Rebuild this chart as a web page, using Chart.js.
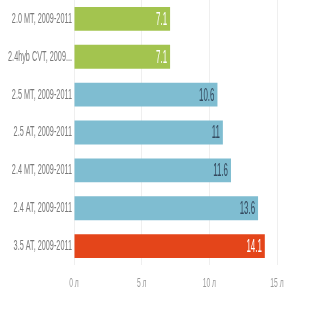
<!DOCTYPE html>
<html>
<head>
<meta charset="utf-8">
<script src="https://cdn.jsdelivr.net/npm/chart.js@4/dist/chart.umd.min.js"></script>
<style>
  html, body { margin: 0; padding: 0; background: #fff; }
  #wrap { width: 335px; height: 315px; position: relative; }
</style>
</head>
<body>
<div id="wrap"><canvas id="fuelChart"></canvas></div>
<script>
// Fuel consumption per engine / gearbox (litres)
const categories = [
    "2.0 MT, 2009-2011",
    "2.4hyb CVT, 2009-2011",
    "2.5 MT, 2009-2011",
    "2.5 AT, 2009-2011",
    "2.4 MT, 2009-2011",
    "2.4 AT, 2009-2011",
    "3.5 AT, 2009-2011"
];
const values = [7.1, 7.1, 10.6, 11, 11.6, 13.6, 14.1];
const barColors = ["#a3c44f", "#a3c44f", "#7fbdd1", "#7fbdd1", "#7fbdd1", "#7fbdd1", "#e4451a"];
const labelColors = ["#ffffff", "#ffffff", "#34495e", "#34495e", "#34495e", "#34495e", "#ffffff"];
const xTicks = [0, 5, 10, 15];

const FONT = "'Liberation Sans', Arial, sans-serif";

/**
 * Draw text squeezed horizontally around (x, y)
 * (the source uses a very narrow face)
 */
function narrowText(ctx, text, x, y, align, squeeze) {
    ctx.save();
    ctx.translate(x, y);
    ctx.scale(squeeze, 1);
    ctx.textAlign = align;
    ctx.fillText(text, 0, 0);
    ctx.restore();
}

/**
 * Axis labels and in-bar values
 */
const narrowLabels = {
    id: "narrowLabels",
    afterDatasetsDraw(chart) {
        const ctx = chart.ctx;
        const xScale = chart.scales.x;
        const yScale = chart.scales.y;
        const meta = chart.getDatasetMeta(0);
        ctx.save();
        ctx.textBaseline = "middle";

        // category labels
        ctx.font = "14px " + FONT;
        ctx.fillStyle = "#7a7a7a";
        categories.forEach((c, i) => {
            const s = c.length > 17 ? c.slice(0, 16) + "..." : c;
            narrowText(ctx, s, xScale.left - 2, yScale.getPixelForTick(i), "right", 0.52);
        });

        // x ticks
        ctx.font = "13px " + FONT;
        ctx.fillStyle = "#9a9a9a";
        xTicks.forEach(v => {
            narrowText(ctx, v + " л", xScale.getPixelForValue(v), yScale.bottom + 18, "center", 0.52);
        });

        // values inside bars
        ctx.font = "18px " + FONT;
        meta.data.forEach((bar, i) => {
            ctx.fillStyle = labelColors[i];
            narrowText(ctx, String(values[i]), bar.x - 3, bar.y + 1, "right", 0.44);
        });
        ctx.restore();
    }
};

new Chart(document.getElementById("fuelChart"), {
    type: "bar",
    data: {
        labels: categories,
        datasets: [{
            data: values,
            backgroundColor: barColors,
            borderWidth: 0,
            categoryPercentage: 0.63,
            barPercentage: 1.0
        }]
    },
    options: {
        indexAxis: "y",
        responsive: true,
        maintainAspectRatio: false,
        animation: false,
        layout: { padding: { top: 0, right: 58, left: 0, bottom: 0 } },
        plugins: {
            legend: { display: false },
            tooltip: { enabled: false }
        },
        scales: {
            x: {
                min: 0,
                max: 15,
                afterBuildTicks: (axis) => { axis.ticks = xTicks.map(v => ({ value: v })); },
                afterFit: (axis) => { axis.height = 50; },
                grid: { color: "#efefef", drawTicks: false },
                border: { display: false },
                ticks: { display: false }
            },
            y: {
                afterFit: (axis) => { axis.width = 74; },
                grid: { display: false, drawTicks: false },
                border: { display: false },
                ticks: { display: false }
            }
        }
    },
    plugins: [narrowLabels]
});
</script>
</body>
</html>
